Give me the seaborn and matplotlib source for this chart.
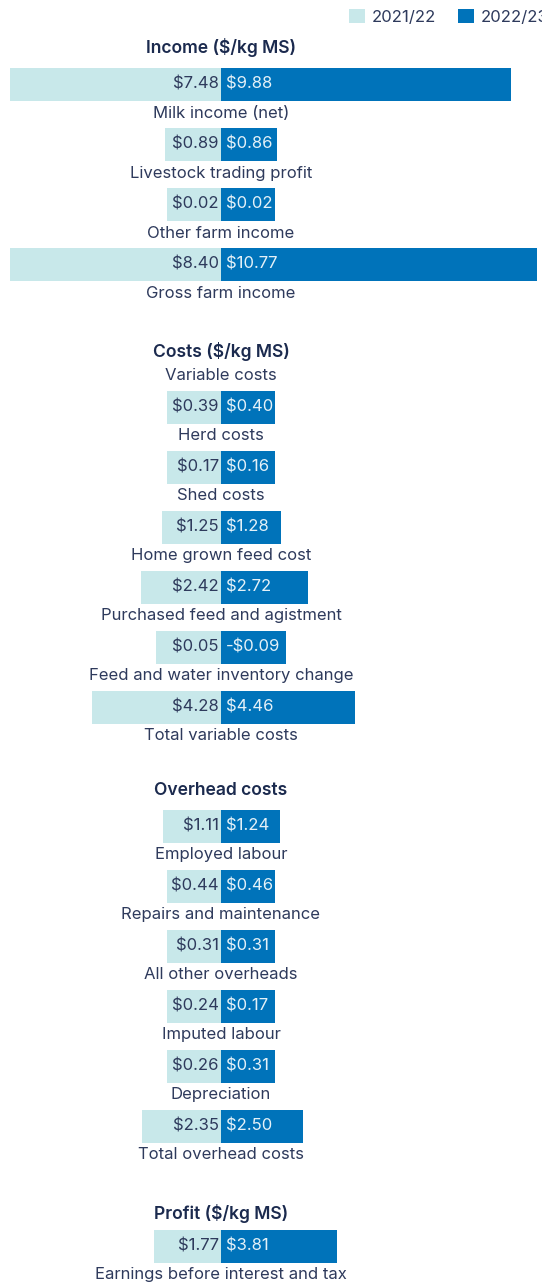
import numpy as np
import pandas as pd
import matplotlib
matplotlib.use("Agg")
import matplotlib.pyplot as plt
import seaborn as sns
from matplotlib.patches import Patch

# ---------------- data ----------------
years = ["2021/22", "2022/23"]
section_titles = ["Income ($/kg MS)", "Costs ($/kg MS)", "Overhead costs", "Profit ($/kg MS)"]

income_items = ["Milk income (net)", "Livestock trading profit", "Other farm income", "Gross farm income"]
income_2122 = [7.48, 0.89, 0.02, 8.40]
income_2223 = [9.88, 0.86, 0.02, 10.77]

cost_items = ["Herd costs", "Shed costs", "Home grown feed cost", "Purchased feed and agistment",
              "Feed and water inventory change", "Total variable costs"]
cost_2122 = [0.39, 0.17, 1.25, 2.42, 0.05, 4.28]
cost_2223 = [0.40, 0.16, 1.28, 2.72, -0.09, 4.46]

overhead_items = ["Employed labour", "Repairs and maintenance", "All other overheads",
                  "Imputed labour", "Depreciation", "Total overhead costs"]
overhead_2122 = [1.11, 0.44, 0.31, 0.24, 0.26, 2.35]
overhead_2223 = [1.24, 0.46, 0.31, 0.17, 0.31, 2.50]

profit_items = ["Earnings before interest and tax"]
profit_2122 = [1.77]
profit_2223 = [3.81]

# ---------------- layout / style ----------------
W, H, DPI = 542, 1286, 100
LIGHT = "#C8E8EA"
DARK = "#0073BA"
TXT = "#2E3A5C"
HEAD = "#1B2A4E"
RTXT = "#E4F1F8"
FONT = ["Inter", "DejaVu Sans"]
FS = 12.0
HFS = 12.6

section_start = [0.0, 5.375, 12.36, 19.36]
header_off = [-0.61, -0.93, -0.59, -0.55]
sub_header = ("Variable costs", 1, -0.52)
MIN_LEN = 1.85     # minimum visual bar length ($ units) so labels fit
MINUS_PAD = 0.37   # extra room in rows whose label carries a minus sign

def bar_length(v, min_len):
    v = np.abs(np.asarray(v, dtype=float))
    return np.cbrt(v ** 3 + min_len ** 3)

sections = [
    (income_items, income_2122, income_2223),
    (cost_items, cost_2122, cost_2223),
    (overhead_items, overhead_2122, overhead_2223),
    (profit_items, profit_2122, profit_2223),
]

rows = []
for si, (items, a, b) in enumerate(sections):
    for k, (name, va, vb) in enumerate(zip(items, a, b)):
        pos = section_start[si] + k
        ml = MIN_LEN + (MINUS_PAD if min(va, vb) < 0 else 0.0)
        rows.append(dict(item=name, pos=pos, year=years[0], value=va, length=-bar_length(va, ml)))
        rows.append(dict(item=name, pos=pos, year=years[1], value=vb, length=bar_length(vb, ml)))
df = pd.DataFrame(rows)

sns.set_theme(style="white")
plt.rcParams["font.family"] = FONT

fig = plt.figure(figsize=(W / DPI, H / DPI), dpi=DPI)
ax = fig.add_axes([10 / W, 0, (W - 10) / W, 1])

sns.barplot(data=df, x="length", y="pos", hue="year", orient="y", native_scale=True,
            dodge=False, width=0.55, palette={years[0]: LIGHT, years[1]: DARK},
            saturation=1, legend=False, ax=ax, errorbar=None, linewidth=0)

PX = 29.3  # pixels per $ unit
ax.set_xlim(-211 / PX, 321 / PX)
ax.set_ylim((H - 84.5) / 60, -84.5 / 60)
ax.axis("off")

def money(v):
    return f"-${abs(v):.2f}" if v < 0 else f"${v:.2f}"

for _, r in df.iterrows():
    if r["year"] == years[0]:
        ax.text(-0.07, r["pos"], money(r["value"]), ha="right", va="center",
                color=TXT, fontsize=FS)
    else:
        ax.text(0.17, r["pos"], money(r["value"]), ha="left", va="center",
                color=RTXT, fontsize=FS)

for name, pos in df.drop_duplicates("item")[["item", "pos"]].itertuples(index=False):
    ax.text(0, pos + 0.48, name, ha="center", va="center", color=TXT, fontsize=FS)

for si, title in enumerate(section_titles):
    ax.text(0, section_start[si] + header_off[si], title, ha="center", va="center",
            color=HEAD, fontsize=HFS, fontweight="semibold")
ax.text(0, section_start[sub_header[1]] + sub_header[2], sub_header[0], ha="center",
        va="center", color=TXT, fontsize=FS)

handles = [Patch(facecolor=LIGHT, edgecolor="none"), Patch(facecolor=DARK, edgecolor="none")]
leg = fig.legend(handles, years, loc="upper left", bbox_to_anchor=(349 / W, 1 - 9 / H),
                 frameon=False, ncol=2, handlelength=0.96, handleheight=0.96,
                 handletextpad=0.42, columnspacing=1.3, borderpad=0, borderaxespad=0,
                 fontsize=FS)
for t in leg.get_texts():
    t.set_color(TXT)

fig.savefig("out.png", dpi=DPI)
